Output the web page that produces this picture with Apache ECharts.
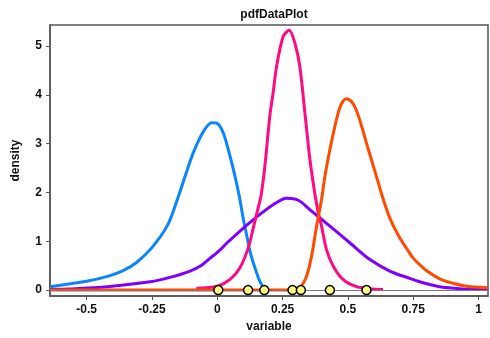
<!DOCTYPE html>
<html><head><meta charset="utf-8">
<script src="https://cdn.jsdelivr.net/npm/echarts@6/dist/echarts.min.js"></script>
<style>html,body{margin:0;padding:0;background:#fff}#c{width:490px;height:338px}</style>
</head><body><div id="c"></div>
<script>
var titleText = 'pdfDataPlot';
var xName = 'variable';
var yName = 'density';
var xTicks = [-0.5, -0.25, 0, 0.25, 0.5, 0.75, 1];
var yTicks = [0, 1, 2, 3, 4, 5];

var blueCurve = [[-0.64,0.07],[-0.5,0.18],[-0.42,0.28],[-0.36,0.40],[-0.31,0.56],[-0.25,0.87],[-0.19,1.33],[-0.155,1.82],[-0.123,2.33],[-0.092,2.81],[-0.053,3.25],[-0.021,3.43],[-0.002,3.42],[0.023,3.22],[0.049,2.74],[0.068,2.33],[0.085,1.9],[0.1,1.45],[0.112,1.14],[0.125,0.80],[0.144,0.46],[0.163,0.18],[0.182,0.01]];
var purpleCurve = [[-0.64,0.01],[-0.575,0.02],[-0.42,0.07],[-0.257,0.17],[-0.181,0.26],[-0.104,0.39],[-0.06,0.51],[-0.028,0.65],[0.01,0.82],[0.036,0.96],[0.1,1.27],[0.163,1.55],[0.214,1.75],[0.265,1.88],[0.31,1.84],[0.354,1.65],[0.431,1.31],[0.507,0.97],[0.583,0.63],[0.66,0.39],[0.736,0.24],[0.775,0.17],[0.851,0.07],[0.927,0.03],[1.0,0.01],[1.036,0.01]];
var pinkCurve = [[-0.08,0.04],[0,0.08],[0.049,0.22],[0.087,0.46],[0.119,0.87],[0.138,1.28],[0.153,1.61],[0.168,1.95],[0.182,2.53],[0.201,3.56],[0.214,4.05],[0.227,4.58],[0.252,5.19],[0.275,5.32],[0.297,5.06],[0.316,4.58],[0.335,3.65],[0.354,2.7],[0.373,1.99],[0.386,1.6],[0.399,1.31],[0.418,0.83],[0.444,0.49],[0.481,0.22],[0.533,0.07],[0.583,0.03],[0.634,0.01]];
var orangeCurve = [[-0.64,0],[0.25,0],[0.29,0.01],[0.316,0.05],[0.342,0.29],[0.361,0.70],[0.38,1.31],[0.392,1.65],[0.399,1.85],[0.412,2.33],[0.431,2.88],[0.45,3.35],[0.466,3.69],[0.48,3.86],[0.494,3.92],[0.51,3.88],[0.526,3.76],[0.545,3.49],[0.571,3.01],[0.609,2.33],[0.634,1.88],[0.66,1.48],[0.698,1.07],[0.736,0.76],[0.749,0.66],[0.775,0.52],[0.80,0.40],[0.851,0.23],[0.902,0.14],[0.953,0.08],[1.036,0.05]];
var samplePoints = [0.004, 0.118, 0.18, 0.288, 0.32, 0.431, 0.571];

var font = "'Liberation Sans', Arial, sans-serif";
var chart = echarts.init(document.getElementById('c'), null, {renderer: 'canvas'});

function curve(data, color) {
  return {type: 'line', data: data, smooth: 0.3, showSymbol: false, symbol: 'none',
    lineStyle: {color: color, width: 3}, silent: true, animation: false};
}

var sBlue = curve(blueCurve, '#0a84ff');
sBlue.markLine = {silent: true, symbol: 'none', label: {show: false},
  lineStyle: {color: '#7a7a7a', width: 1, type: 'solid'}, data: [{yAxis: 0}], animation: false};

chart.setOption({
  animation: false,
  title: {text: titleText, left: 269, textAlign: 'center', top: 4,
    textStyle: {fontFamily: font, fontSize: 12, fontWeight: 'bold', color: '#111'}},
  grid: {left: 50, right: 2, top: 25, bottom: 41, show: true, borderColor: '#555', borderWidth: 1.5, containLabel: false},
  xAxis: {type: 'value', min: -0.64, max: 1.036,
    name: xName, nameLocation: 'middle', nameGap: 16,
    nameTextStyle: {fontFamily: font, fontSize: 12, fontWeight: 'bold', color: '#111'},
    axisLine: {show: true, onZero: false, lineStyle: {color: '#555', width: 1.5}},
    axisTick: {show: true, length: 4, customValues: xTicks, lineStyle: {color: '#555', width: 1}},
    axisLabel: {customValues: xTicks, margin: 8, fontFamily: font, fontSize: 12, fontWeight: 'bold', color: '#111'},
    splitLine: {show: false}},
  yAxis: {type: 'value', min: -0.123, max: 5.43,
    name: yName, nameLocation: 'middle', nameGap: 28, nameRotate: 90,
    nameTextStyle: {fontFamily: font, fontSize: 12, fontWeight: 'bold', color: '#111'},
    axisLine: {show: true, onZero: false, lineStyle: {color: '#555', width: 1.5}},
    axisTick: {show: true, length: 4, customValues: yTicks, lineStyle: {color: '#555', width: 1}},
    axisLabel: {customValues: yTicks, margin: 8, fontFamily: font, fontSize: 12, fontWeight: 'bold', color: '#111'},
    splitLine: {show: false}},
  series: [
    sBlue,
    curve(purpleCurve, '#8000ff'),
    curve(pinkCurve, '#ff0a84'),
    curve(orangeCurve, '#ff4a00'),
    {type: 'scatter', z: 5, data: samplePoints.map(function(v){return [v, 0];}),
      symbol: 'circle', symbolSize: 9, silent: true,
      itemStyle: {color: '#ffff80', borderColor: '#000', borderWidth: 1.5, opacity: 1}}
  ]
});
</script></body></html>
